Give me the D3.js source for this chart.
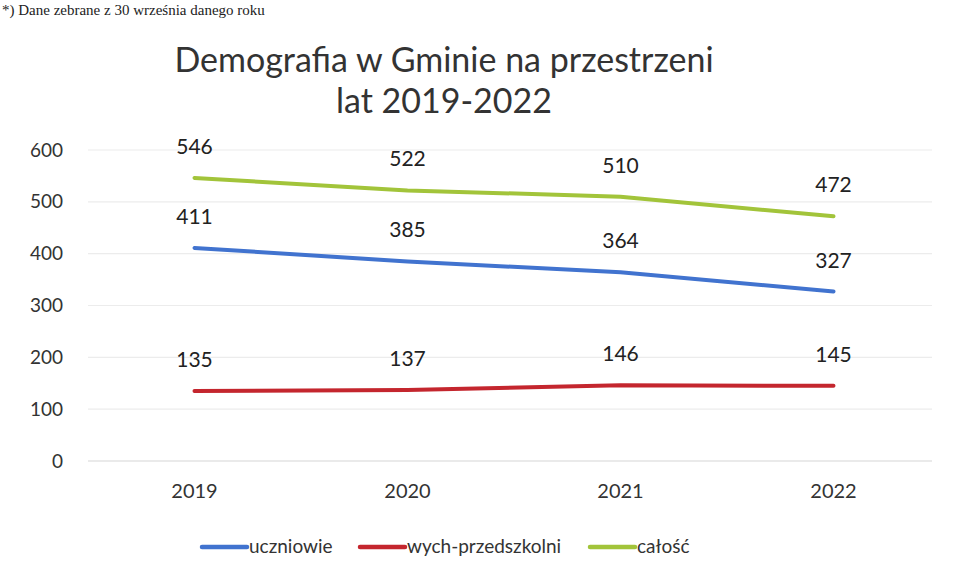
<!DOCTYPE html>
<html>
<head>
<meta charset="utf-8">
<script src="https://cdn.jsdelivr.net/npm/d3@7"></script>
<style>
  body { margin: 0; background: #fff; }
  svg { display: block; }
</style>
</head>
<body>
<div id="chart"></div>
<script>
// data
var years = ['2019', '2020', '2021', '2022'];
var uczniowie = [411, 385, 364, 327];
var przedszkolni = [135, 137, 146, 145];
var calosc = [546, 522, 510, 472];
var yTicks = [0, 100, 200, 300, 400, 500, 600];
var seriesNames = ['uczniowie', 'wych-przedszkolni', 'całość'];

var width = 960;
var height = 580;
var font = 'Lato, "Open Sans", sans-serif';

var series = [
  { name: seriesNames[0], values: uczniowie, color: '#4173cf' },
  { name: seriesNames[1], values: przedszkolni, color: '#c4262e' },
  { name: seriesNames[2], values: calosc, color: '#a2c43a' }
];

// scales
var x_scale = d3.scaleBand()
  .domain(years)
  .range([88, 940]);

var y_scale = d3.scaleLinear()
  .domain([0, 600])
  .range([461, 150]);

var svg = d3.select('#chart')
  .append('svg')
  .attr('width', width)
  .attr('height', height);

// note at the top of the scan
svg.append('text')
  .attr('x', 2)
  .attr('y', 15)
  .attr('font-family', '"Liberation Serif", serif')
  .attr('font-size', 15)
  .attr('fill', '#222')
  .text('*) Dane zebrane z 30 września danego roku');

// title
var title = svg.append('text')
  .attr('text-anchor', 'middle')
  .attr('font-family', font)
  .attr('font-size', 34)
  .attr('fill', '#333');
title.append('tspan').attr('x', 444).attr('y', 72).text('Demografia w Gminie na przestrzeni');
title.append('tspan').attr('x', 444).attr('y', 113).text('lat 2019-2022');

// grid
svg.append('g')
  .selectAll('line')
  .data(yTicks)
  .enter()
  .append('line')
  .attr('x1', 88)
  .attr('x2', 932)
  .attr('y1', d => y_scale(d))
  .attr('y2', d => y_scale(d))
  .attr('stroke', d => d === 0 ? '#d6d6d6' : '#ececec')
  .attr('stroke-width', 1.2);

// y axis
var y_axis = d3.axisLeft(y_scale)
  .tickValues(yTicks)
  .tickSize(0)
  .tickPadding(0);

svg.append('g')
  .attr('transform', 'translate(63,0)')
  .call(y_axis)
  .call(g => g.select('.domain').remove())
  .selectAll('text')
  .attr('font-family', font)
  .attr('font-size', 19)
  .attr('fill', '#333');

// x axis
var x_axis = d3.axisBottom(x_scale)
  .tickSize(0)
  .tickPadding(0);

svg.append('g')
  .attr('transform', 'translate(0,484)')
  .call(x_axis)
  .call(g => g.select('.domain').remove())
  .selectAll('text')
  .attr('font-family', font)
  .attr('font-size', 20)
  .attr('fill', '#333');

// lines
var line = d3.line()
  .x((d, i) => x_scale(years[i]) + x_scale.bandwidth() / 2)
  .y(d => y_scale(d));

series.forEach(function(s) {
  svg.append('path')
    .datum(s.values)
    .attr('fill', 'none')
    .attr('stroke', s.color)
    .attr('stroke-width', 4)
    .attr('stroke-linecap', 'round')
    .attr('d', line);

  svg.append('g')
    .selectAll('text')
    .data(s.values)
    .enter()
    .append('text')
    .attr('x', (d, i) => x_scale(years[i]) + x_scale.bandwidth() / 2)
    .attr('y', d => y_scale(d) - 24)
    .attr('text-anchor', 'middle')
    .attr('font-family', font)
    .attr('font-size', 21)
    .attr('fill', '#222')
    .text(d => d);
});

// legend
var legendX = [202, 360, 590];
var legend = svg.append('g');
series.forEach(function(s, i) {
  legend.append('line')
    .attr('x1', legendX[i])
    .attr('x2', legendX[i] + 45)
    .attr('y1', 547)
    .attr('y2', 547)
    .attr('stroke', s.color)
    .attr('stroke-width', 4.5)
    .attr('stroke-linecap', 'round');
  legend.append('text')
    .attr('x', legendX[i] + 47)
    .attr('y', 553)
    .attr('font-family', font)
    .attr('font-size', 19)
    .attr('fill', '#333')
    .text(s.name);
});
</script>
</body>
</html>
